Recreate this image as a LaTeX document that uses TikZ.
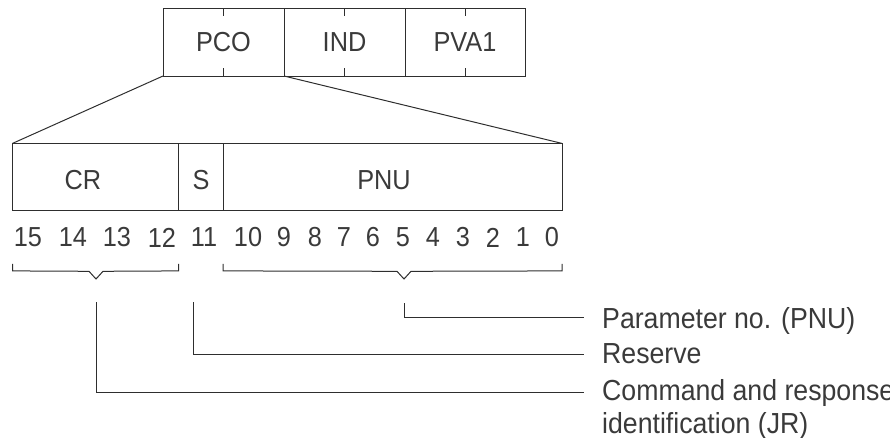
\documentclass[tikz,border=0pt]{standalone}
\usepackage{fontspec}
\setmainfont{Liberation Sans}[FakeStretch=0.92]
\usetikzlibrary{calc}
\definecolor{linec}{HTML}{2E2E2E}
\definecolor{txtc}{HTML}{3A3A3A}
\begin{document}
\begin{tikzpicture}[x=1pt,y=-1pt,
  fld/.style={draw=linec,line width=1pt,minimum height=68pt,inner sep=0pt,outer sep=0pt,
    font=\fontsize{27.5}{30}\selectfont,text=txtc},
  bfld/.style={draw=linec,line width=1pt,minimum height=67.2pt,inner sep=0pt,outer sep=0pt},
  boxtxt/.style={font=\fontsize{27.5}{30}\selectfont,text=txtc,inner sep=0pt},
  num/.style={font=\fontsize{27.5}{30}\selectfont,text=txtc,inner sep=0pt},
  lab/.style={font=\fontsize{29}{32.5}\selectfont,text=txtc,inner sep=0pt,anchor=base west,align=left},
  ln/.style={draw=linec,line width=1pt}]
\useasboundingbox (0,0) rectangle (890,437);
% top word fields
\node[fld,minimum width=121pt] (pco) at (223.5,42) {PCO};
\node[fld,minimum width=121pt] (ind) at (344.5,42) {IND};
\node[fld,minimum width=120pt] (pva) at (465,42) {PVA1};
\foreach \b in {pco,ind,pva}{
  \draw[ln] (\b.north) -- ++(0,8);
  \draw[ln] (\b.south) -- ++(0,-8);
}
% bit fields
\node[bfld,minimum width=166.2pt] (cr) at (95.6,177) {};
\node[bfld,minimum width=44.3pt] (s) at (200.85,177) {};
\node[bfld,minimum width=339pt] (pnu) at (392.5,177) {};
\node[boxtxt] (tcr) at (83,180) {CR};
\node[boxtxt] (ts) at (201,180) {S};
\node[boxtxt] (tpnu) at (384,180) {PNU};
% expansion lines
\draw[ln] (pco.south west) -- (cr.north west);
\draw[ln] (pco.south east) -- (pnu.north east);
% bit numbers
\foreach \n/\x in {15/28,14/73,13/117,12/162,11/204,10/248,9/284,8/315,7/344,6/373,5/403,4/433,3/463,2/493,1/523,0/552}
  \node[num] (n\n) at (\x,237.5) {\n};
% brackets
\coordinate (b1) at (96,279);
\coordinate (b2) at (404,279);
\draw[ln] ($(cr.south west)+(0,53.3)$) -- ($(cr.south west)+(0,60.3)$) -- (89,271.3) -- (b1) -- (103,271.3) -- ($(cr.south east)+(0,60.3)$) -- ($(cr.south east)+(0,53.3)$);
\draw[ln] ($(pnu.south west)+(0,53.3)$) -- ($(pnu.south west)+(0,60.3)$) -- (397,271.3) -- (b2) -- (411,271.3) -- ($(pnu.south east)+(0,60.3)$) -- ($(pnu.south east)+(0,53.3)$);
% labels
\node[lab] (lpnu) at (602,328.3) {Parameter no. (PNU)};
\node[lab] (lres) at (602,363.3) {Reserve};
\node[lab] (ljr) at (602,433.2) {Command and response\\identification (JR)};
% leader lines
\coordinate (s1) at (404,303); \coordinate (e1) at (584,317);
\coordinate (s2) at (193,302); \coordinate (e2) at (584,354);
\coordinate (s3) at (96,302);  \coordinate (e3) at (584,392);
\draw[ln] (s1) |- (e1);
\draw[ln] (s2) |- (e2);
\draw[ln] (s3) |- (e3);
\end{tikzpicture}
\end{document}
